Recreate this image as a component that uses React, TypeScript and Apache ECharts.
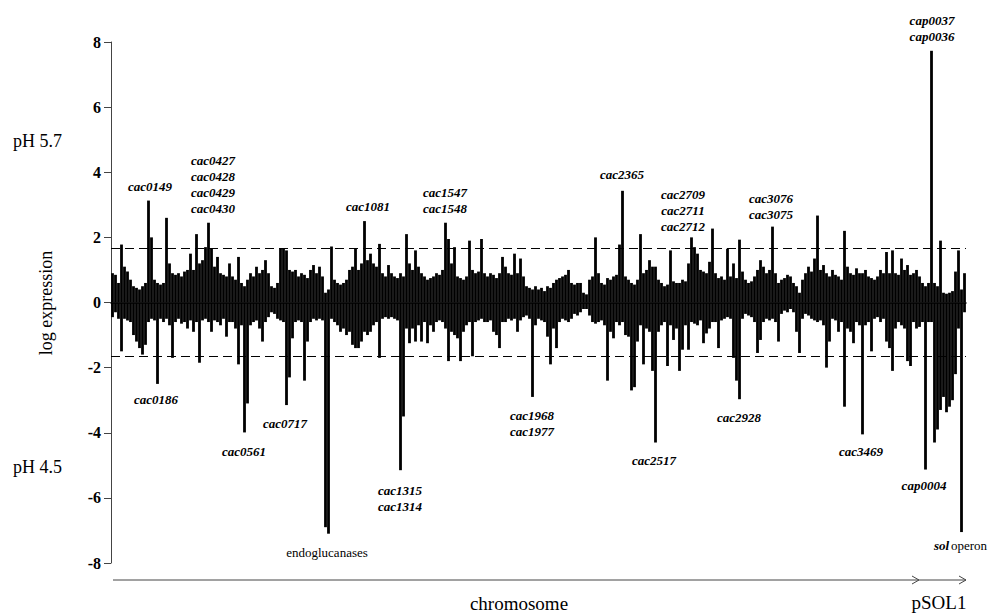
import React, { useEffect, useRef } from "react";
import * as echarts from "echarts";

// Upper envelope of log expression per chromosome position (gene order)
const up = [
  0.9, 0.85, 0.6, 1.78, 1.1, 0.95, 0.7, 0.5, 0.45, 0.4,
  0.5, 0.6, 3.13, 2.0, 0.7, 0.6, 0.55, 0.6, 2.6, 1.2,
  0.9, 0.85, 0.9, 0.8, 0.95, 1.0, 1.5, 1.0, 2.1, 1.2,
  1.3, 1.7, 2.45, 1.65, 1.1, 1.4, 0.9, 0.85, 0.8, 1.2,
  0.8, 0.7, 1.4, 0.6, 0.5, 0.7, 0.9, 0.8, 1.1, 0.9,
  1.0, 1.3, 0.9, 0.5, 0.45, 0.6, 1.65, 1.65, 1.6, 1.0,
  0.95, 1.0, 0.8, 0.9, 0.85, 0.75, 1.0, 1.15, 0.9, 1.1,
  0.8, 0.3, 0.4, 1.72, 0.7, 0.6, 0.55, 0.6, 0.7, 1.0,
  1.1, 1.65, 1.0, 1.2, 2.5, 1.3, 1.5, 1.2, 1.1, 1.8,
  0.9, 0.8, 1.15, 0.9, 0.8, 0.75, 0.9, 0.8, 2.1, 1.2,
  1.0, 1.6, 1.1, 0.9, 0.8, 0.7, 0.75, 0.8, 0.9, 0.85,
  1.0, 2.45, 1.95, 1.2, 1.7, 0.8, 0.75, 0.7, 0.8, 1.9,
  1.0, 0.9, 0.95, 1.95, 0.9, 0.8, 0.9, 0.85, 0.75, 0.9,
  1.4, 1.1, 0.9, 0.85, 1.5, 0.9, 1.35, 0.8, 0.5, 0.45,
  0.4, 0.5, 0.4, 0.45, 0.35, 0.5, 0.45, 0.6, 0.7, 0.75,
  0.8, 0.85, 1.0, 0.6, 0.55, 0.6, 0.6, 0.3, 0.25, 0.7,
  0.8, 2.0, 0.9, 0.6, 0.55, 0.75, 0.7, 0.8, 0.85, 1.78,
  3.43, 0.8, 0.7, 0.6, 0.55, 0.7, 2.1, 0.9, 1.0, 1.3,
  1.1, 1.1, 0.7, 0.6, 0.5, 0.55, 1.6, 0.65, 0.6, 0.6,
  0.7, 0.65, 1.2, 2.0, 1.7, 1.5, 1.0, 0.95, 0.9, 1.25,
  2.27, 0.9, 0.75, 0.8, 0.7, 1.65, 0.8, 1.2, 0.75, 1.93,
  0.95, 0.7, 0.6, 0.65, 0.8, 1.0, 1.3, 1.1, 0.9, 1.0,
  2.33, 0.9, 0.6, 0.7, 0.75, 0.85, 0.8, 0.6, 0.5, 0.3,
  0.7, 0.9, 1.1, 0.95, 1.35, 2.67, 1.0, 1.15, 0.9, 0.8,
  1.0, 0.85, 0.8, 0.7, 2.2, 1.1, 0.9, 0.85, 1.05, 0.9,
  0.9, 1.0, 0.8, 0.75, 0.7, 0.8, 1.0, 0.9, 1.55, 0.9,
  1.6, 0.9, 0.85, 1.35, 1.0, 1.15, 0.85, 0.9, 1.0, 0.8,
  0.6, 0.5, 0.6, 7.73, 0.6, 0.5, 1.9, 0.3, 0.27, 0.3,
  0.35, 0.95, 1.6, 0.4, 0.9,
];

// Lower envelope of log expression per chromosome position
const down = [
  -0.45, -0.3, -0.5, -1.5, -0.5, -0.55, -0.6, -1.0, -1.2, -1.4,
  -1.6, -1.3, -0.6, -0.5, -0.55, -2.5, -0.5, -0.6, -0.5, -0.7,
  -1.7, -0.6, -0.5, -0.65, -0.6, -0.8, -0.55, -0.9, -0.6, -1.85,
  -0.55, -0.5, -0.6, -0.9, -0.55, -0.6, -0.7, -0.5, -1.05, -0.6,
  -0.6, -0.8, -1.9, -0.7, -3.99, -3.1, -0.7, -0.6, -0.55, -0.8,
  -1.2, -0.6, -0.45, -0.3, -0.35, -0.5, -0.55, -0.6, -3.15, -2.3,
  -1.1, -0.6, -0.55, -0.6, -2.4, -1.2, -0.6, -0.5, -0.55, -0.5,
  -0.55, -6.9, -7.1, -0.5, -0.6, -0.7, -0.9, -0.8, -1.0, -0.9,
  -1.3, -1.4, -1.4, -1.2, -0.9, -1.0, -0.9, -0.7, -0.6, -1.7,
  -0.5, -0.45, -0.5, -0.45, -0.5, -0.55, -5.15, -3.5, -0.8, -1.25,
  -0.8, -1.2, -0.7, -1.2, -0.6, -1.25, -0.7, -0.9, -0.6, -0.55,
  -0.6, -0.8, -1.8, -0.9, -1.0, -1.1, -1.8, -0.9, -0.7, -0.6,
  -1.65, -0.6, -0.55, -0.5, -0.6, -0.6, -0.55, -0.9, -1.0, -1.4,
  -0.6, -0.6, -0.5, -0.55, -0.5, -0.9, -0.55, -0.45, -0.4, -0.5,
  -2.9, -0.7, -0.5, -0.55, -0.6, -1.05, -1.9, -0.8, -1.4, -0.6,
  -0.5, -0.55, -0.6, -0.5, -0.35, -0.4, -0.3, -0.2, -0.2, -0.4,
  -0.6, -0.65, -0.6, -0.55, -0.7, -2.4, -0.9, -1.1, -0.6, -0.7,
  -0.6, -1.0, -1.05, -2.7, -2.6, -1.2, -0.7, -1.9, -0.8, -0.9,
  -2.1, -4.3, -0.9, -0.7, -0.6, -1.95, -0.7, -1.15, -0.8, -2.1,
  -1.45, -0.7, -1.45, -0.6, -0.65, -0.7, -0.55, -1.25, -0.95, -0.8,
  -0.6, -0.6, -1.4, -0.55, -0.5, -0.45, -0.5, -1.7, -2.4, -2.97,
  -0.5, -0.35, -0.4, -0.45, -0.6, -1.55, -1.15, -0.6, -0.5, -0.55,
  -0.5, -0.6, -1.2, -0.35, -0.25, -0.3, -0.2, -0.3, -0.9, -1.55,
  -0.5, -0.35, -0.4, -0.5, -0.55, -0.6, -0.55, -0.7, -2.0, -1.2,
  -0.5, -0.55, -0.9, -0.6, -3.2, -0.8, -0.9, -1.25, -0.6, -0.7,
  -4.05, -0.7, -0.6, -1.5, -0.5, -0.45, -0.6, -0.5, -1.2, -1.4,
  -2.1, -0.8, -0.6, -0.7, -0.8, -1.8, -1.95, -0.6, -0.8, -0.75,
  -0.6, -5.13, -0.6, -0.6, -4.3, -3.9, -3.3, -2.9, -3.37, -3.2,
  -3.0, -2.2, -0.8, -7.05, -0.3,
];

const genePositions = up.map((_, i) => String(i));
const thresholds = [1.66, -1.66];
const yMin = -8;
const yMax = 8;
const yStep = 2;

const annotations = [
  { text: "cac0149", x: 150, y: 186 },
  { text: "cac0427\ncac0428\ncac0429\ncac0430", x: 213, y: 184 },
  { text: "cac0186", x: 156, y: 399 },
  { text: "cac0561", x: 244, y: 451 },
  { text: "cac0717", x: 285, y: 423 },
  { text: "cac1081", x: 368, y: 206 },
  { text: "cac1547\ncac1548", x: 445, y: 200 },
  { text: "cac1315\ncac1314", x: 400, y: 498 },
  { text: "cac1968\ncac1977", x: 532, y: 423 },
  { text: "cac2365", x: 622, y: 174 },
  { text: "cac2709\ncac2711\ncac2712", x: 683, y: 210 },
  { text: "cac2517", x: 654, y: 460 },
  { text: "cac2928", x: 739, y: 417 },
  { text: "cac3076\ncac3075", x: 771, y: 206 },
  { text: "cac3469", x: 861, y: 451 },
  { text: "cap0004", x: 924, y: 485 },
  { text: "cap0037\ncap0036", x: 932, y: 28 },
];

const SERIF = '"Liberation Serif", "Times New Roman", serif';

function txt(text: string, x: number, y: number, opts: any = {}) {
  return {
    type: "text",
    silent: true,
    style: {
      text,
      x,
      y,
      fill: "#000",
      fontFamily: SERIF,
      fontSize: opts.fontSize ?? 13,
      fontStyle: opts.fontStyle ?? "normal",
      fontWeight: opts.fontWeight ?? "normal",
      lineHeight: opts.lineHeight ?? 16,
      align: opts.align ?? "center",
      verticalAlign: "middle",
      textAlign: opts.align ?? "center",
      textVerticalAlign: "middle",
    },
  };
}

export default function App() {
  const ref = useRef<HTMLDivElement>(null);

  useEffect(() => {
    if (!ref.current) return;
    const chart = echarts.init(ref.current, undefined, { renderer: "svg" });

    const graphics: any[] = [];
    annotations.forEach((a) =>
      graphics.push(txt(a.text, a.x, a.y, { fontStyle: "italic", fontWeight: "bold" }))
    );
    graphics.push(txt("endoglucanases", 327, 552, {}));
    graphics.push(txt("sol", 934, 545, { fontStyle: "italic", fontWeight: "bold", align: "left" }));
    graphics.push(txt("operon", 951, 545, { align: "left" }));
    graphics.push(txt("pH 5.7", 13, 141, { fontSize: 18, align: "left" }));
    graphics.push(txt("pH 4.5", 13, 467, { fontSize: 18, align: "left" }));
    graphics.push({
      type: "text",
      silent: true,
      x: 46,
      y: 303,
      rotation: Math.PI / 2,
      style: {
        text: "log expression",
        x: 0,
        y: 0,
        fill: "#000",
        fontFamily: SERIF,
        fontSize: 18,
        align: "center",
        verticalAlign: "middle",
        textAlign: "center",
        textVerticalAlign: "middle",
      },
    });
    graphics.push(txt("chromosome", 519, 603, { fontSize: 19 }));
    graphics.push(txt("pSOL1", 939, 602, { fontSize: 19 }));
    // bottom arrow
    graphics.push({
      type: "line",
      silent: true,
      shape: { x1: 113, y1: 580, x2: 966, y2: 580 },
      style: { stroke: "#444", lineWidth: 1 },
    });
    graphics.push({
      type: "polyline",
      silent: true,
      shape: { points: [[912, 576], [919, 580], [912, 584]] },
      style: { stroke: "#444", lineWidth: 1, fill: null },
    });
    graphics.push({
      type: "polyline",
      silent: true,
      shape: { points: [[959, 576], [966, 580], [959, 584]] },
      style: { stroke: "#444", lineWidth: 1, fill: null },
    });

    chart.setOption({
      animation: false,
      backgroundColor: "#fff",
      grid: { left: 111, top: 42, width: 855, height: 521, containLabel: false },
      xAxis: {
        type: "category",
        data: genePositions,
        axisLine: { show: true, onZero: true, lineStyle: { color: "#000", width: 1.5 } },
        axisTick: { show: false },
        axisLabel: { show: false },
        splitLine: { show: false },
      },
      yAxis: {
        type: "value",
        min: yMin,
        max: yMax,
        interval: yStep,
        axisLine: { show: true, lineStyle: { color: "#444", width: 1 } },
        axisTick: { show: true, length: 7, inside: false, lineStyle: { color: "#444" } },
        axisLabel: {
          color: "#000",
          fontFamily: SERIF,
          fontSize: 16,
          fontWeight: "bold",
          margin: 10,
        },
        splitLine: { show: false },
      },
      series: [
        {
          type: "bar",
          name: "up",
          data: up,
          barWidth: 2.8,
          barGap: "-100%",
          itemStyle: { color: "#000" },
          markLine: {
            silent: true,
            symbol: "none",
            label: { show: false },
            lineStyle: { color: "#000", type: [9, 5], width: 1.2 },
            data: thresholds.map((t) => ({ yAxis: t })),
          },
        },
        {
          type: "bar",
          name: "down",
          data: down,
          barWidth: 2.8,
          barGap: "-100%",
          itemStyle: { color: "#000" },
        },
      ],
      graphic: graphics,
    });

    return () => chart.dispose();
  }, []);

  return (
    <div
      ref={ref}
      style={{ position: "fixed", left: 0, top: 0, width: 990, height: 615, background: "#fff" }}
    />
  );
}
